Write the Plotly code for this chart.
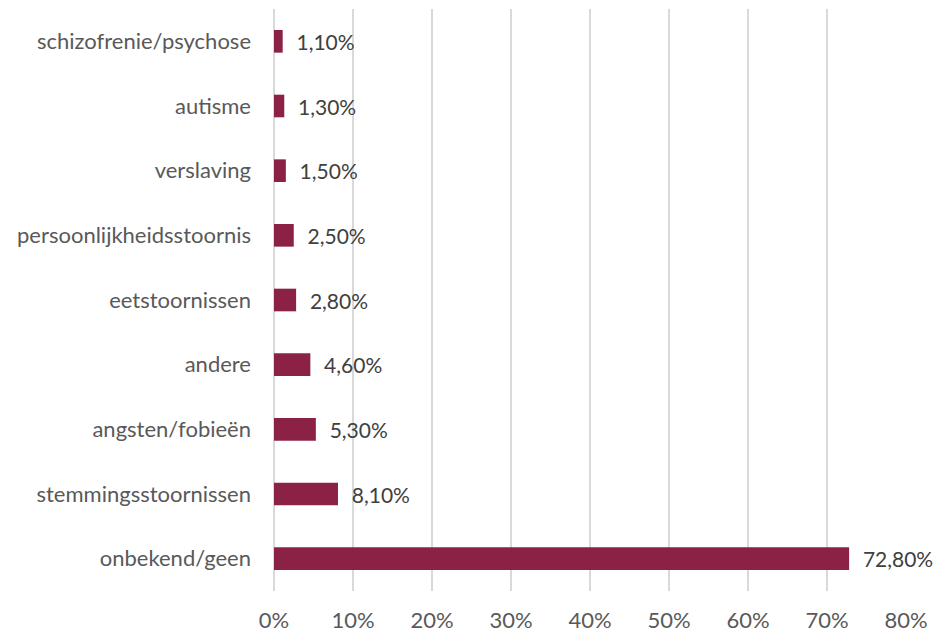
import plotly.graph_objects as go

# Categorieën van boven naar beneden
categorieen = [
    "schizofrenie/psychose",
    "autisme",
    "verslaving",
    "persoonlijkheidsstoornis",
    "eetstoornissen",
    "andere",
    "angsten/fobieën",
    "stemmingsstoornissen",
    "onbekend/geen",
]
percentages = [1.1, 1.3, 1.5, 2.5, 2.8, 4.6, 5.3, 8.1, 72.8]
tick_waarden = [0, 10, 20, 30, 40, 50, 60, 70, 80]
tick_labels = [f"{v}%" for v in tick_waarden]

labels = ["  " + f"{p:.2f}".replace(".", ",") + "%" for p in percentages]

fig = go.Figure()
fig.add_trace(
    go.Bar(
        x=percentages,
        y=categorieen,
        orientation="h",
        marker=dict(color="#8B2245", line=dict(width=0)),
        width=0.35,
        text=labels,
        textposition="outside",
        constraintext="none",
        textfont=dict(size=21, color="#404040", family="Lato"),
        cliponaxis=False,
    )
)

# de pagina heeft 8px marge, dus de figuur iets kleiner
fig.update_layout(
    width=936,
    height=626,
    margin=dict(l=266, r=38, t=1, b=43),
    plot_bgcolor="white",
    paper_bgcolor="white",
    showlegend=False,
    font=dict(family="Lato", size=22, color="#595959"),
)
fig.update_xaxes(
    range=[0, 80],
    tickvals=tick_waarden,
    ticktext=tick_labels,
    showgrid=True,
    gridcolor="#D9D9D9",
    gridwidth=1.5,
    zeroline=True,
    zerolinecolor="#D9D9D9",
    zerolinewidth=1.5,
    showline=False,
    ticks="",
    ticklabelstandoff=14,
    automargin=False,
    tickfont=dict(size=22, color="#595959"),
)
fig.update_yaxes(
    autorange="reversed",
    showgrid=False,
    showline=False,
    ticks="",
    ticklabelstandoff=22,
    automargin=False,
    tickfont=dict(size=22, color="#595959"),
)

fig.write_html("out.html")
